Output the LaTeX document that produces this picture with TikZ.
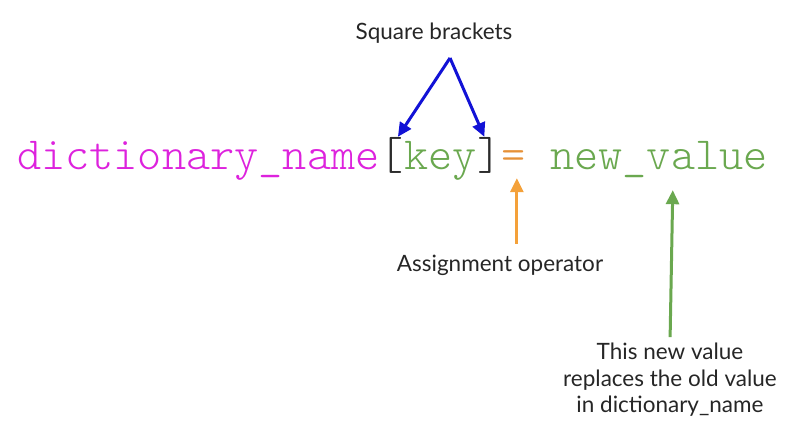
\documentclass[tikz,border=0pt]{standalone}
\usepackage{fontspec}
\setmainfont{Lato}
\newfontfamily\codefont{Latin Modern Mono Light}
\usepackage{tikz}
\usetikzlibrary{positioning,arrows.meta}
\definecolor{dictmag}{HTML}{DD22DD}
\definecolor{valgreen}{HTML}{6AA84F}
\definecolor{eqorange}{HTML}{E69138}
\definecolor{brack}{HTML}{2B2B2B}
\definecolor{bluearr}{HTML}{1212D6}
\definecolor{orangearr}{HTML}{F4A13A}
\definecolor{greenarr}{HTML}{6AA84F}
\tikzset{
  code/.style={font=\codefont\fontsize{46}{46}\selectfont, inner sep=0pt, text height=26pt, text depth=6pt},
  note/.style={font=\fontsize{22.5}{26.5}\selectfont, align=center, text=black!85, inner sep=0pt},
  pointer/.style={-{Triangle[length=14pt,width=13pt]}, line width=3pt, draw=#1},
}

\begin{document}
\begin{tikzpicture}[x=1pt, y=1pt]
  \useasboundingbox (0,0) rectangle (810,434);
  % code line
  \node[code, anchor=base west, text=dictmag] (dict) at (17,264) {dictionary\_name};
  \node[code, base right=0pt of dict, text=brack] (lbr) {[};
  \node[code, base right=0pt of lbr, text=valgreen] (key) {key};
  \node[code, base right=0pt of key, text=brack] (rbr) {]};
  \node[code, base right=0pt of rbr, text=eqorange] (eq) {=};
  \node[code, base right=24pt of eq, text=valgreen] (val) {new\_value};
  % labels
  \node[note] (sq) at (434,401) {Square brackets};
  \coordinate (apex) at (450,376);
  \node[note] (assign) at (500,169) {Assignment operator};
  \node[note] (repl) at (670,54) {This new value\\replaces the old value\\in dictionary\_name};
  % arrows
  \draw[pointer=bluearr] (apex) -- ([xshift=6pt,yshift=7pt]lbr.north);
  \draw[pointer=bluearr] (apex) -- ([xshift=-5pt,yshift=7pt]rbr.north);
  \draw[pointer=orangearr, shorten <=11pt, shorten >=2pt] ([xshift=3pt]eq.south |- assign.north) -- ([xshift=3pt]eq.south);
  \draw[pointer=greenarr, shorten <=6pt, shorten >=14pt] (repl.north) -- ([xshift=14pt]val.south);
\end{tikzpicture}
\end{document}
